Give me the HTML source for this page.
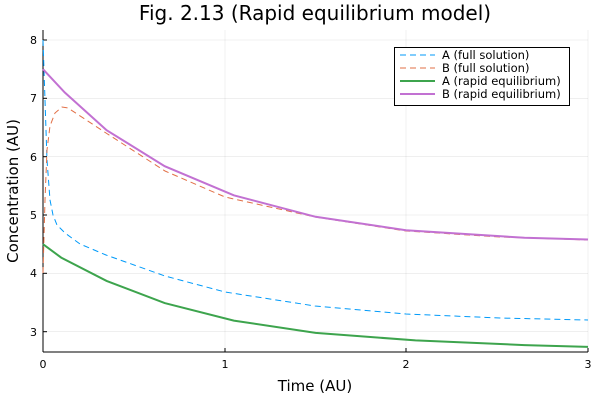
<!DOCTYPE html>
<html><head><style>body{margin:0;background:#fff}</style></head><body>
<svg width="600" height="400" xmlns="http://www.w3.org/2000/svg" font-family="DejaVu Sans, Liberation Sans, sans-serif">
<rect width="600" height="400" fill="#fff"/>
<g stroke="#000" stroke-opacity="0.1" stroke-width="0.6">
<line x1="43" y1="30" x2="43" y2="352"/><line x1="225" y1="30" x2="225" y2="352"/><line x1="406" y1="30" x2="406" y2="352"/><line x1="588" y1="30" x2="588" y2="352"/>
<line x1="43" y1="40" x2="588" y2="40"/><line x1="43" y1="98.3" x2="588" y2="98.3"/><line x1="43" y1="156.7" x2="588" y2="156.7"/><line x1="43" y1="215" x2="588" y2="215"/><line x1="43" y1="273.3" x2="588" y2="273.3"/><line x1="43" y1="331.7" x2="588" y2="331.7"/>
</g>
<g stroke="#000" stroke-width="1">
<line x1="43" y1="352" x2="588" y2="352"/><line x1="43" y1="30" x2="43" y2="352"/>
<line x1="225" y1="352" x2="225" y2="348"/><line x1="406" y1="352" x2="406" y2="348"/><line x1="588" y1="352" x2="588" y2="348"/>
<line x1="43" y1="40" x2="47" y2="40"/><line x1="43" y1="98.3" x2="47" y2="98.3"/><line x1="43" y1="156.7" x2="47" y2="156.7"/><line x1="43" y1="215" x2="47" y2="215"/><line x1="43" y1="273.3" x2="47" y2="273.3"/><line x1="43" y1="331.7" x2="47" y2="331.7"/>
</g>
<g font-size="11" fill="#000" text-anchor="end">
<text x="37" y="44">8</text><text x="37" y="102">7</text><text x="37" y="161">6</text><text x="37" y="219">5</text><text x="37" y="277">4</text><text x="37" y="336">3</text>
</g>
<g font-size="11" fill="#000" text-anchor="middle">
<text x="43" y="368">0</text><text x="225" y="368">1</text><text x="406" y="368">2</text><text x="588" y="368">3</text>
</g>
<text x="315" y="391" font-size="15" text-anchor="middle">Time (AU)</text>
<text x="0" y="0" font-size="15" text-anchor="middle" transform="translate(18,191) rotate(-90)">Concentration (AU)</text>
<text x="315" y="20" font-size="20" text-anchor="middle">Fig. 2.13 (Rapid equilibrium model)</text>
<g fill="none">
<polyline stroke="#009af9" stroke-width="1" stroke-dasharray="6,4" points="43,40 45,100 47,160 50,200 53,215 57,225 65,233 80,244 106,255 165,276 225,292 315,306 406,314 500,318 588,320"/>
<polyline stroke="#e26f46" stroke-width="1" stroke-dasharray="6,4" points="43,273 45,200 47,150 50,126 55,113 62,107 68,108 106,133 165,171 225,197 315,217 406,231 500,237 588,240"/>
<polyline stroke="#3da44d" stroke-width="2" points="43,244.2 61.2,257.6 106.6,280.9 164.7,303.1 233.8,320.6 315.6,332.9 415.5,340.4 524.5,345.1 588,346.9"/>
<polyline stroke="#c271d2" stroke-width="2" points="43,69.2 64.8,92.5 106.6,130.2 164.7,166.2 233.8,195.3 315.6,216.8 406,230.2 524.5,237.8 588,239.5"/>
</g>
<rect x="394.5" y="47.5" width="175" height="58" fill="#fff" stroke="#000" stroke-width="1"/>
<g stroke-width="1">
<line x1="400" y1="55" x2="435" y2="55" stroke="#009af9" stroke-dasharray="6,4"/>
<line x1="400" y1="68" x2="435" y2="68" stroke="#e26f46" stroke-dasharray="6,4"/>
<line x1="400" y1="81" x2="435" y2="81" stroke="#3da44d" stroke-width="2"/>
<line x1="400" y1="94" x2="435" y2="94" stroke="#c271d2" stroke-width="2"/>
</g>
<g font-size="11.5" fill="#000">
<text x="442" y="59">A (full solution)</text><text x="442" y="72">B (full solution)</text><text x="442" y="85">A (rapid equilibrium)</text><text x="442" y="98">B (rapid equilibrium)</text>
</g>
</svg>
</body></html>
